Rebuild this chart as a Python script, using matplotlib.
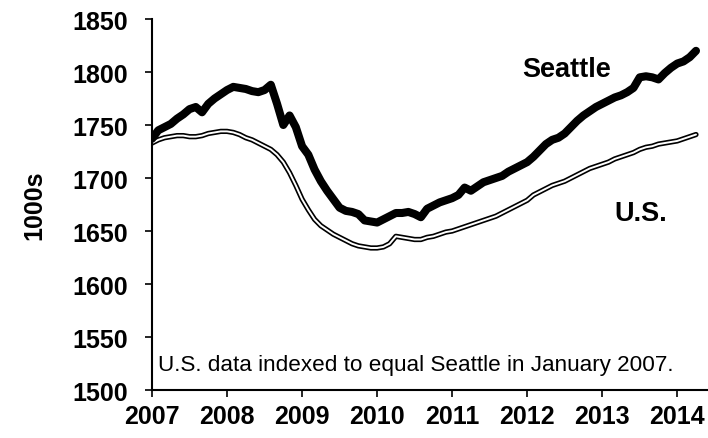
import numpy as np
import matplotlib
matplotlib.use("Agg")
import matplotlib.pyplot as plt

plt.rcParams["font.family"] = ["Liberation Sans", "DejaVu Sans"]

# monthly values, Jan 2007 - Apr 2014 (thousands)
seattle = [
    1737, 1745, 1748, 1751, 1756, 1760, 1765, 1767, 1762, 1770, 1775, 1779,
    1783, 1786, 1785, 1784, 1782, 1781, 1783, 1788, 1770, 1750, 1759, 1748,
    1730, 1722, 1708, 1697, 1688, 1680, 1672, 1669, 1668, 1666, 1660, 1659,
    1658, 1661, 1664, 1667, 1667, 1668, 1666, 1663, 1671, 1674, 1677, 1679,
    1681, 1684, 1691, 1688, 1692, 1696, 1698, 1700, 1702, 1706, 1709, 1712,
    1715, 1720, 1726, 1732, 1736, 1738, 1742, 1748, 1754, 1759, 1763, 1767,
    1770, 1773, 1776, 1778, 1781, 1785, 1795, 1796, 1795, 1793, 1799, 1804,
    1808, 1810, 1814, 1820,
]
us = [
    1733, 1736, 1738, 1739, 1740, 1740, 1739, 1739, 1740, 1742, 1743, 1744,
    1744, 1743, 1741, 1738, 1736, 1733, 1730, 1727, 1722, 1715, 1705, 1693,
    1680, 1670, 1661, 1655, 1651, 1647, 1644, 1641, 1638, 1636, 1635, 1634,
    1634, 1635, 1638, 1645, 1644, 1643, 1642, 1642, 1644, 1645, 1647, 1649,
    1650, 1652, 1654, 1656, 1658, 1660, 1662, 1664, 1667, 1670, 1673, 1676,
    1679, 1684, 1687, 1690, 1693, 1695, 1697, 1700, 1703, 1706, 1709, 1711,
    1713, 1715, 1718, 1720, 1722, 1724, 1727, 1729, 1730, 1732, 1733, 1734,
    1735, 1737, 1739, 1741,
]
years = [2007, 2008, 2009, 2010, 2011, 2012, 2013, 2014]
yticks = [1500, 1550, 1600, 1650, 1700, 1750, 1800, 1850]

t = 2007 + np.arange(len(seattle)) / 12.0

fig = plt.figure(figsize=(7.08, 4.39), dpi=100)
ax = fig.add_axes([0.2147, 0.1093, 0.7853, 0.8451])

ax.plot(t, us, color="black", lw=3.8, solid_capstyle="round", solid_joinstyle="round")
ax.plot(t, us, color="white", lw=1.4, solid_capstyle="round", solid_joinstyle="round")
ax.plot(t, seattle, color="black", lw=5.8, solid_capstyle="round", solid_joinstyle="round")

ax.set_xlim(2007, 2014.41)
ax.set_ylim(1500, 1850)
ax.set_xticks(years)
ax.set_xticklabels([str(y) for y in years], fontsize=18, fontweight="bold")
ax.set_yticks(yticks)
ax.set_yticklabels([str(v) for v in yticks], fontsize=18, fontweight="bold")
ax.tick_params(axis="both", direction="out", length=5, width=1.2, color="black")
ax.tick_params(axis="x", pad=5)
ax.tick_params(axis="y", pad=12)

for side in ["top", "right"]:
    ax.spines[side].set_visible(False)
for side in ["left", "bottom"]:
    ax.spines[side].set_linewidth(1.5)

ax.set_ylabel("1000s", fontsize=18, fontweight="bold")
ax.yaxis.set_label_coords(-0.19, 0.5)

ax.text(2012.52, 1803, "Seattle", fontsize=19.5, fontweight="bold", ha="center", va="center")
ax.text(2013.51, 1667, "U.S.", fontsize=19.5, fontweight="bold", ha="center", va="center")
ax.text(2007.08, 1524, "U.S. data indexed to equal Seattle in January 2007.",
        fontsize=16.2, ha="left", va="center")

fig.savefig("out.png", dpi=100)
